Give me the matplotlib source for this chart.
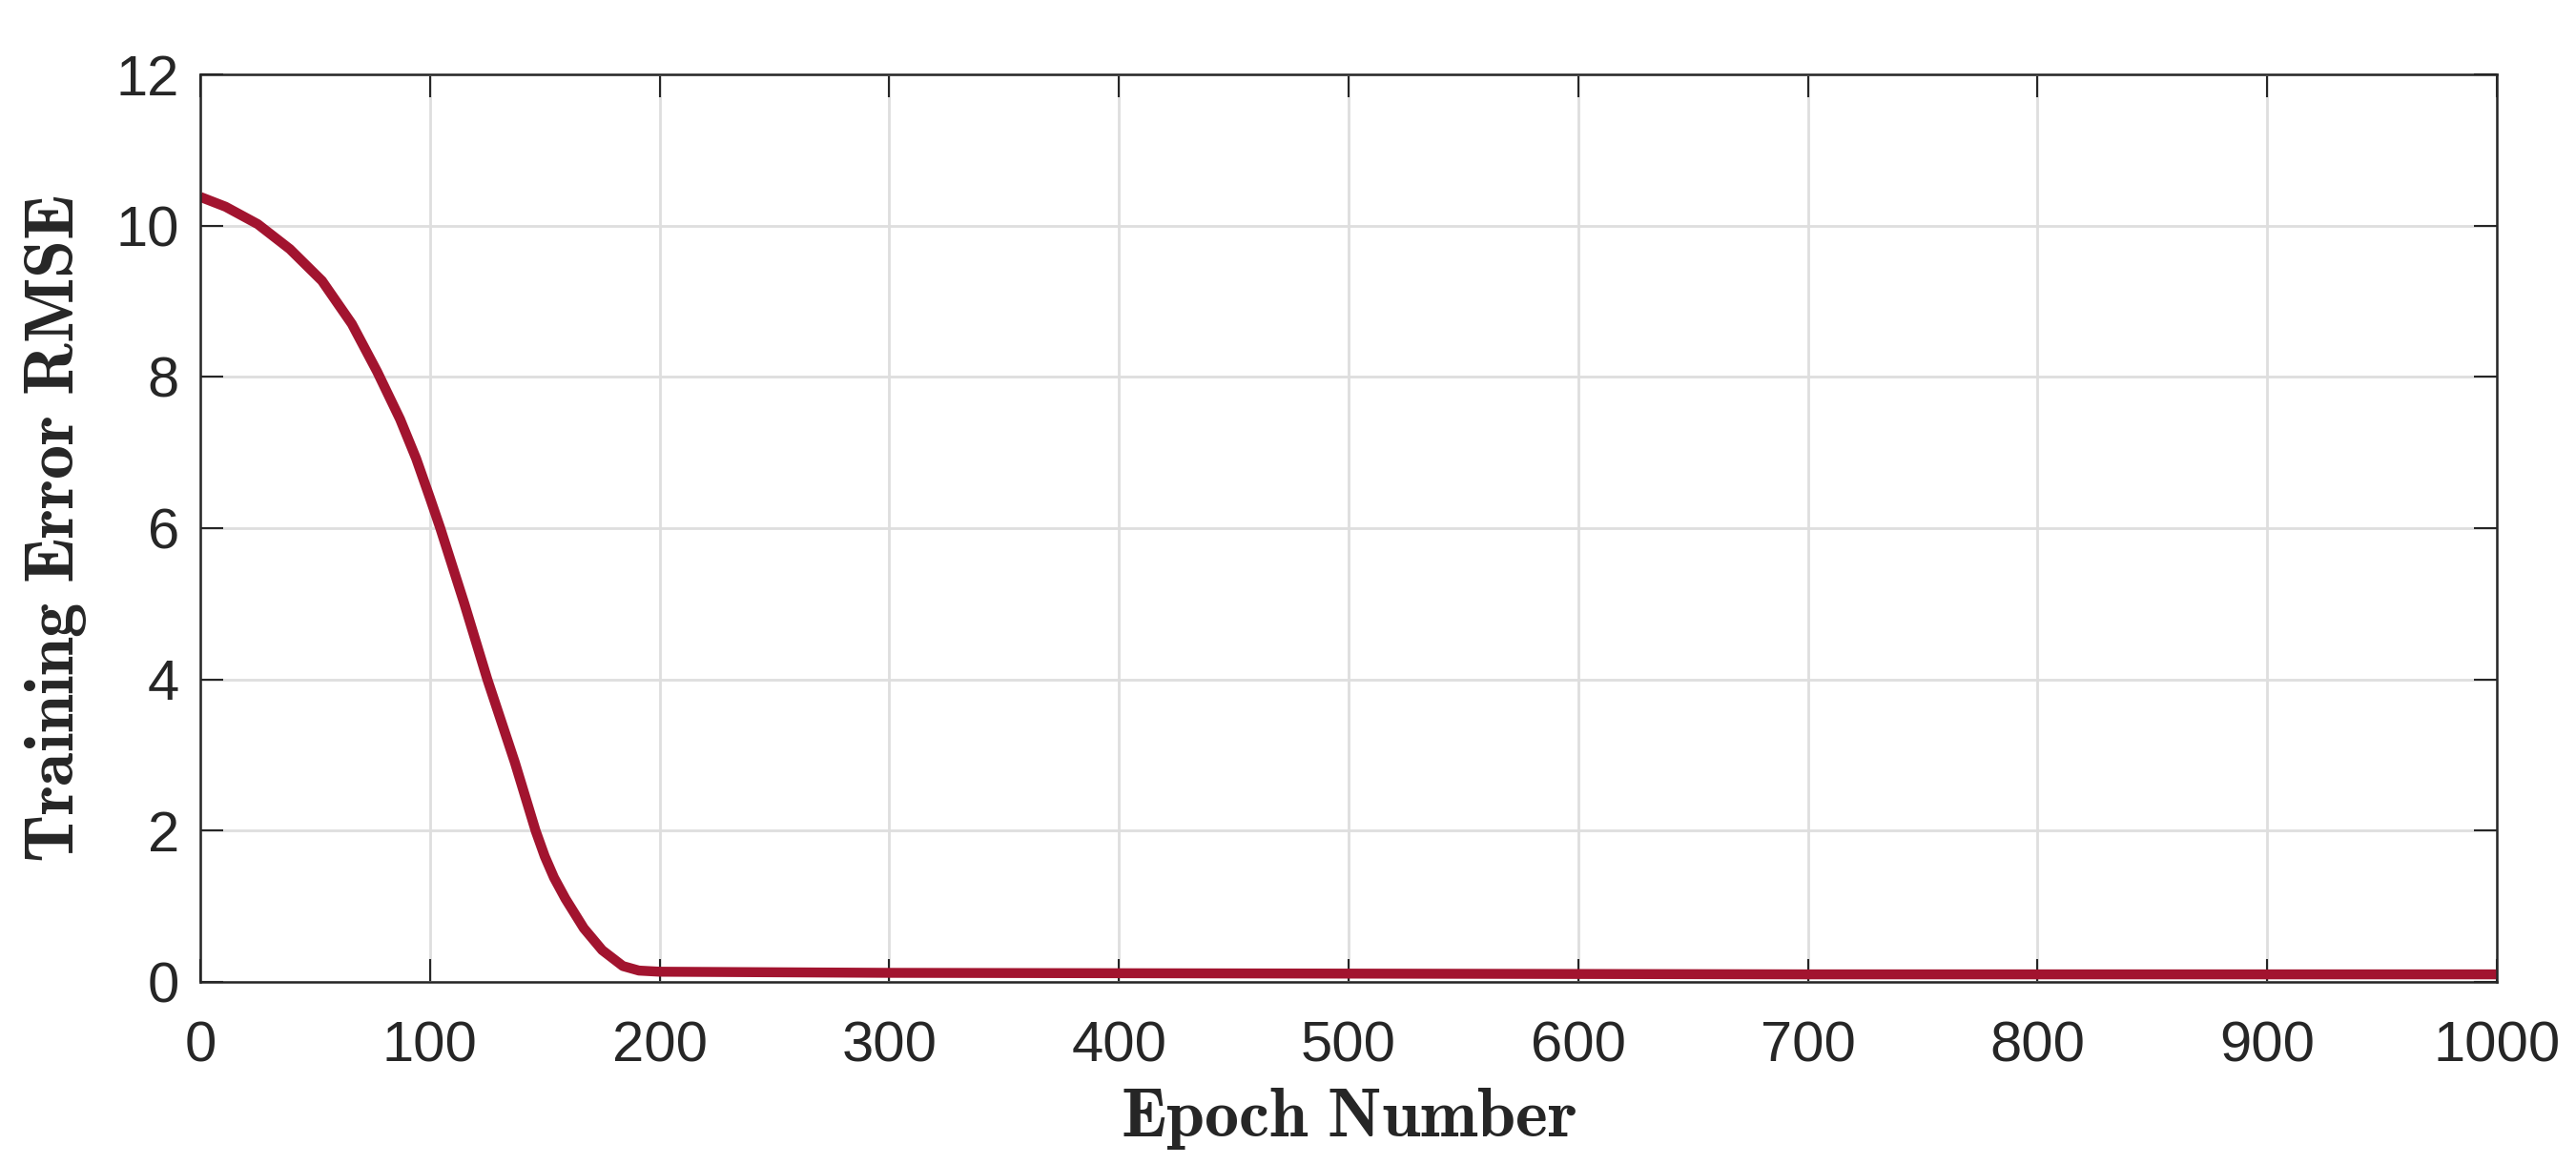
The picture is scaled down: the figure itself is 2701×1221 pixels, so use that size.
import matplotlib
matplotlib.use('Agg')
import matplotlib.pyplot as plt

# values
epochs = [0, 11, 25, 39, 53, 66, 77, 87, 94, 100, 104.5, 115, 125, 137,
          141, 146, 150, 154, 159, 167, 175, 184, 191, 200, 300, 500, 700,
          1000]
rmse = [10.38, 10.25, 10.02, 9.69, 9.27, 8.70, 8.07, 7.44, 6.92, 6.4, 6.0,
        5.0, 4.0, 2.9, 2.5, 2.0, 1.66, 1.38, 1.10, 0.71, 0.42, 0.21, 0.15,
        0.135, 0.12, 0.11, 0.1, 0.1]

x_ticks = list(range(0, 1001, 100))
y_ticks = list(range(0, 13, 2))

line_color = '#A2142F'
axis_color = '#262626'

plt.rcParams['mathtext.fontset'] = 'cm'
plt.rcParams['font.family'] = ['Liberation Sans', 'DejaVu Sans']

fig = plt.figure(figsize=(27.01, 12.21), dpi=100)
ax = fig.add_axes([210 / 2701, 1 - 1030 / 1221, 2408 / 2701, 952 / 1221])

ax.plot(epochs, rmse, color=line_color, linewidth=7.5,
        solid_joinstyle='round', solid_capstyle='butt')

ax.set_xlim(0, 1000)
ax.set_ylim(0, 12)
ax.set_xticks(x_ticks)
ax.set_yticks(y_ticks)

ax.grid(True, color='#dedede', linewidth=2)
ax.set_axisbelow(True)

ax.tick_params(direction='in', length=17, width=1.5, color=axis_color,
               labelsize=43, labelcolor=axis_color, top=True, right=True)
ax.tick_params(axis='x', pad=29)
ax.tick_params(axis='y', pad=16)
for spine in ax.spines.values():
    spine.set_linewidth(1.8)
    spine.set_color(axis_color)

ax.set_xlabel(r'$\mathbf{Epoch\ Number}$', fontsize=52, color=axis_color,
              labelpad=10)
ax.set_ylabel(r'$\mathbf{Training\ Error\ RMSE}$', fontsize=52,
              color=axis_color, labelpad=20)

fig.savefig('out.png', dpi=100, facecolor='white')
